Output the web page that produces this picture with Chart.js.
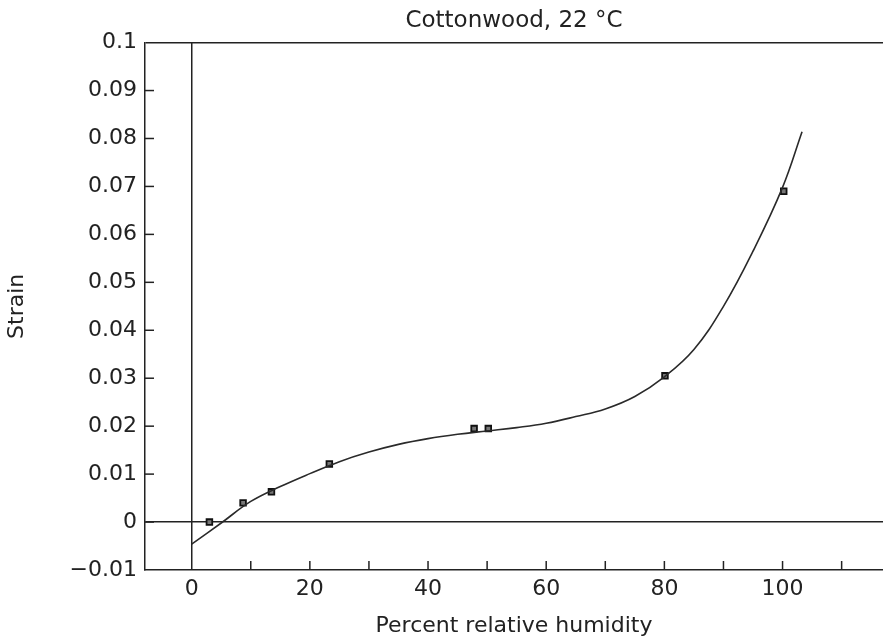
<!DOCTYPE html>
<html>
<head>
<meta charset="utf-8">
<script src="https://cdn.jsdelivr.net/npm/chart.js@4.4.1/dist/chart.umd.min.js"></script>
<style>
  body { margin: 0; background: #fff; }
  #wrap { width: 883px; height: 641px; }
</style>
</head>
<body>
<div id="wrap"><canvas id="strain-chart" width="883" height="641"></canvas></div>
<script>
// measured points (squares)
const humidity = [3, 8.7, 13.5, 23.3, 47.8, 50.2, 80.1, 100.2];
const strain = [0.0, 0.0040, 0.0063, 0.0121, 0.0195, 0.0195, 0.0305, 0.0690];

// fitted curve
const curveHumidity = [0, 5, 10, 15, 20, 25, 30, 35, 40, 45, 50, 55, 60, 65, 70, 75, 80, 85, 90, 95, 100, 103.3];
const curveStrain = [-0.0046, -0.0002, 0.0043, 0.0074, 0.0101, 0.0126, 0.0146, 0.0162, 0.0174, 0.0183, 0.0190, 0.0197, 0.0206, 0.0220, 0.0236, 0.0262, 0.0303, 0.0360, 0.0450, 0.0565, 0.0698, 0.0814];

const xTicks = [0, 10, 20, 30, 40, 50, 60, 70, 80, 90, 100, 110];
const xLabels = ['0', '', '20', '', '40', '', '60', '', '80', '', '100', ''];
const yTicks = [-0.01, 0, 0.01, 0.02, 0.03, 0.04, 0.05, 0.06, 0.07, 0.08, 0.09, 0.1];
const yLabels = ['\u22120.01', '0', '0.01', '0.02', '0.03', '0.04', '0.05', '0.06', '0.07', '0.08', '0.09', '0.1'];

const ink = '#222';
const fontFamily = '"DejaVu Sans", "Liberation Sans", Arial, sans-serif';

// small tick marks pointing into the plot
const inwardTicks = {
    id: 'inwardTicks',
    afterDraw(chart) {
        const c = chart.ctx;
        const area = chart.chartArea;
        const xs = chart.scales.x;
        const ys = chart.scales.y;
        c.save();
        c.strokeStyle = ink;
        c.lineWidth = 1.5;
        xTicks.forEach(v => {
            if (v === 0) return;
            const px = xs.getPixelForValue(v);
            c.beginPath();
            c.moveTo(px, area.bottom);
            c.lineTo(px, area.bottom - 9);
            c.stroke();
        });
        yTicks.forEach(v => {
            if (v === -0.01 || v === 0.1) return;
            const py = ys.getPixelForValue(v);
            c.beginPath();
            c.moveTo(area.left, py);
            c.lineTo(area.left + 9, py);
            c.stroke();
        });
        c.restore();
    }
};

const ctx = document.getElementById('strain-chart').getContext('2d');
new Chart(ctx, {
    data: {
        datasets: [{
            type: 'line',
            label: 'Fit',
            data: curveHumidity.map((h, i) => ({ x: h, y: curveStrain[i] })),
            borderColor: '#2a2a2a',
            borderWidth: 1.6,
            pointRadius: 0,
            tension: 0.4,
            fill: false
        }, {
            type: 'scatter',
            label: 'Measured',
            data: humidity.map((h, i) => ({ x: h, y: strain[i] })),
            pointStyle: 'rect',
            pointRadius: 4,
            backgroundColor: '#777',
            borderColor: '#111',
            borderWidth: 1.8
        }]
    },
    options: {
        responsive: false,
        maintainAspectRatio: false,
        animation: false,
        layout: { padding: 0, autoPadding: false },
        plugins: {
            legend: { display: false },
            tooltip: { enabled: false },
            title: {
                display: true,
                text: 'Cottonwood, 22 \u00b0C',
                fullSize: false,
                color: ink,
                font: { family: fontFamily, size: 23, weight: 'normal' },
                padding: { top: 7, bottom: 8 }
            }
        },
        scales: {
            x: {
                type: 'linear',
                min: -7.9,
                max: 117,
                afterBuildTicks: scale => { scale.ticks = xTicks.map(v => ({ value: v })); },
                afterFit: scale => {
                    scale.height = 71;
                    scale.paddingLeft = 0;
                    scale.paddingRight = 0;
                },
                border: { display: true, color: ink, width: 1.5 },
                grid: {
                    drawTicks: false,
                    lineWidth: 1.5,
                    color: c => (c.tick && c.tick.value === 0) ? ink : 'rgba(0,0,0,0)'
                },
                ticks: {
                    padding: 6,
                    color: ink,
                    maxRotation: 0,
                    autoSkip: false,
                    font: { family: fontFamily, size: 22 },
                    callback: (v, i) => xLabels[xTicks.indexOf(v)] || ''
                },
                title: {
                    display: true,
                    text: 'Percent relative humidity',
                    color: ink,
                    font: { family: fontFamily, size: 22 },
                    padding: { top: 2, bottom: 2 }
                }
            },
            y: {
                type: 'linear',
                min: -0.01,
                max: 0.1,
                afterBuildTicks: scale => { scale.ticks = yTicks.map(v => ({ value: v })); },
                afterFit: scale => { scale.width = 145; },
                border: { display: true, color: ink, width: 1.5 },
                grid: {
                    drawTicks: false,
                    lineWidth: 1.5,
                    color: c => (c.tick && (c.tick.value === 0 || c.tick.value === 0.1)) ? ink : 'rgba(0,0,0,0)'
                },
                ticks: {
                    padding: 8,
                    color: ink,
                    autoSkip: false,
                    font: { family: fontFamily, size: 22 },
                    callback: v => yLabels[yTicks.indexOf(v)]
                },
                title: {
                    display: true,
                    text: 'Strain',
                    color: ink,
                    font: { family: fontFamily, size: 22 },
                    padding: { top: 4, bottom: 0 }
                }
            }
        }
    },
    plugins: [inwardTicks]
});
</script>
</body>
</html>
